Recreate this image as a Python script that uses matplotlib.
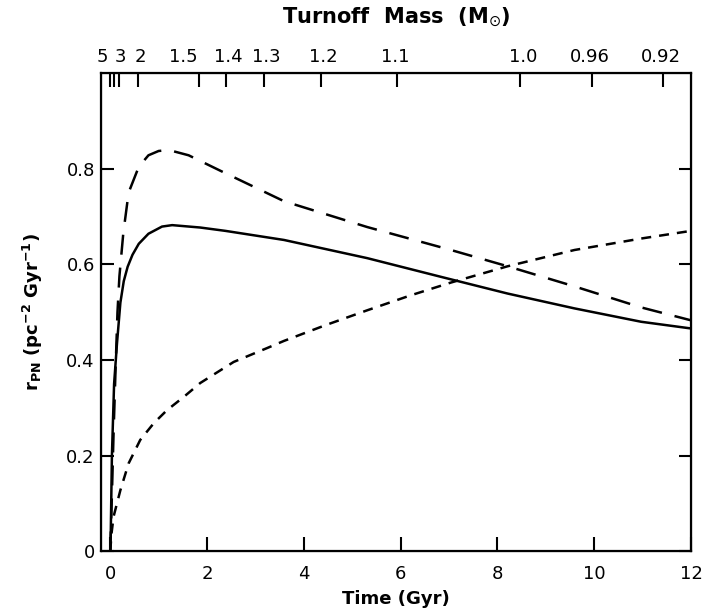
import matplotlib
matplotlib.use("Agg")
import matplotlib.pyplot as plt

# solid curve
t_solid = [0.0, 0.01, 0.035, 0.08, 0.14, 0.21, 0.28, 0.36, 0.46, 0.59, 0.79, 1.07, 1.28,
           1.86, 2.38, 3.59, 5.31, 6.83, 8.21, 9.59, 10.97, 12.0]
r_solid = [0.0, 0.03, 0.2, 0.35, 0.435, 0.52, 0.565, 0.595, 0.62, 0.643, 0.664, 0.679, 0.682,
           0.677, 0.670, 0.651, 0.613, 0.574, 0.539, 0.508, 0.480, 0.466]

# long dashed curve
t_long = [0.0, 0.03, 0.07, 0.11, 0.15, 0.19, 0.27, 0.38, 0.59, 0.79, 1.0, 1.21, 1.62,
          2.31, 3.59, 5.31, 7.04, 8.21, 9.59, 10.97, 12.0]
r_long = [0.0, 0.1, 0.25, 0.38, 0.5, 0.575, 0.665, 0.75, 0.804, 0.828, 0.837, 0.839, 0.828,
          0.794, 0.732, 0.678, 0.630, 0.596, 0.554, 0.510, 0.483]

# short dashed curve
t_short = [0.0, 0.03, 0.07, 0.21, 0.38, 0.62, 0.90, 1.17, 1.52, 1.86, 2.55, 3.24, 3.59,
           4.45, 5.31, 6.2, 7.04, 8.21, 9.59, 10.97, 12.0]
r_short = [0.0, 0.04, 0.073, 0.128, 0.184, 0.233, 0.268, 0.295, 0.323, 0.352, 0.396, 0.425, 0.440,
           0.473, 0.504, 0.535, 0.562, 0.596, 0.630, 0.654, 0.670]

# top axis: turnoff mass (tick marks and label positions, in Gyr)
mass_tick_t = [0.0, 0.08, 0.19, 0.58, 1.84, 2.39, 3.18, 4.36, 5.92, 8.46, 9.95, 11.43]
mass_label_t = [-0.16, 0.22, 0.62, 1.50, 2.43, 3.23, 4.41, 5.88, 8.54, 9.90, 11.37]
mass_labels = ['5', '3', '2', '1.5', '1.4', '1.3', '1.2', '1.1', '1.0', '0.96', '0.92']

x_ticks = [0, 2, 4, 6, 8, 10, 12]
y_ticks = [0, 0.2, 0.4, 0.6, 0.8]
y_labels = ['0', '0.2', '0.4', '0.6', '0.8']

plt.rcParams['font.family'] = 'DejaVu Sans'

fig = plt.figure(figsize=(7.03, 6.15), dpi=100)
ax = fig.add_axes([0.1437, 0.1034, 0.8393, 0.7779])

lw = 1.8
ax.plot(t_solid, r_solid, color='black', lw=lw)
ax.plot(t_long, r_long, color='black', lw=lw, dashes=(8, 5.2))
ax.plot(t_short, r_short, color='black', lw=lw, dashes=(4, 3.2))

ax.set_xlim(-0.19, 12.0)
ax.set_ylim(0, 1.0)

for s in ax.spines.values():
    s.set_linewidth(1.6)

ax.set_xticks(x_ticks)
ax.set_xticklabels([str(v) for v in x_ticks])
ax.set_yticks(y_ticks)
ax.set_yticklabels(y_labels)
ax.tick_params(axis='x', direction='in', length=10, width=1.5, labelsize=13, pad=10)
ax.tick_params(axis='y', direction='in', length=9, width=1.5, labelsize=13, pad=4.5,
               right=True)

ax.set_xlabel('Time (Gyr)', fontsize=13, fontweight='bold', labelpad=5)
ax.set_ylabel(r'r$_{\mathbf{PN}}$ (pc$^{\mathbf{-2}}$ Gyr$^{\mathbf{-1}}$)',
              fontsize=13, fontweight='bold', labelpad=15)

# secondary top axis
ax2 = ax.twiny()
ax2.set_xlim(ax.get_xlim())
ax2.set_xticks(mass_tick_t)
ax2.set_xticklabels([])
ax2.set_xticks(mass_label_t, minor=True)
ax2.set_xticklabels(mass_labels, minor=True)
ax2.tick_params(axis='x', which='major', direction='in', length=10, width=1.5)
ax2.tick_params(axis='x', which='minor', length=0, labelsize=13, pad=5)
ax2.set_xlabel(r'Turnoff  Mass  (M$_{\odot}$)', fontsize=15, fontweight='bold', labelpad=18)

fig.savefig('out.png', dpi=100)
